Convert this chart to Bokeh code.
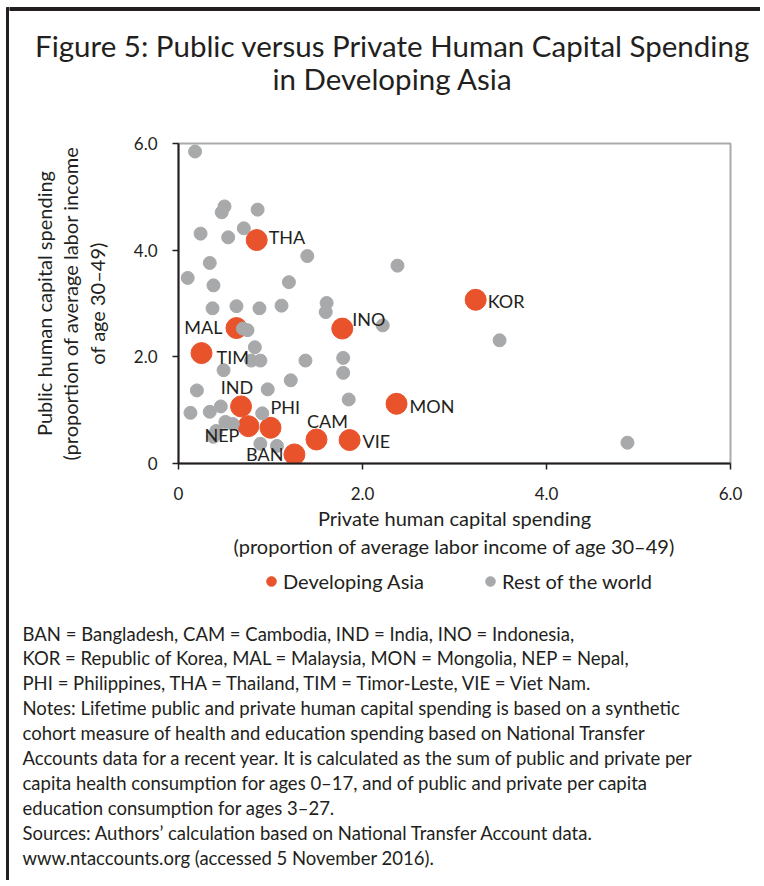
from bokeh.plotting import figure
from bokeh.models import Range1d, FixedTicker, Legend, LegendItem, ColumnDataSource
from bokeh.layouts import column, row
from bokeh.embed import file_html
from bokeh.resources import INLINE
from bokeh.core.properties import value

# ---------------- data ----------------
title_lines = ["Figure 5: Public versus Private Human Capital Spending",
               "in Developing Asia"]

asia_codes = ["THA", "INO", "MAL", "TIM", "IND", "PHI", "NEP", "CAM", "VIE", "BAN", "MON", "KOR"]
asia_private = [0.85, 1.78, 0.63, 0.25, 0.68, 1.00, 0.76, 1.50, 1.86, 1.26, 2.37, 3.23]
asia_public = [4.19, 2.53, 2.54, 2.07, 1.07, 0.67, 0.70, 0.45, 0.44, 0.17, 1.12, 3.07]

rest_private = [0.18, 0.50, 0.47, 0.86, 0.24, 0.54, 0.71, 1.40, 0.34, 2.38,
                0.10, 0.38, 1.20, 0.37, 0.63, 0.88, 1.12, 1.61, 1.60, 2.22,
                0.70, 0.75, 0.83, 0.79, 0.89, 1.38, 1.79, 1.79, 0.49, 1.22,
                0.20, 0.97, 1.85, 0.13, 0.34, 0.46, 0.91, 0.51, 0.59, 0.41,
                0.38, 0.89, 1.07, 3.49, 4.88]
rest_public = [5.85, 4.82, 4.71, 4.76, 4.31, 4.24, 4.41, 3.89, 3.76, 3.71,
               3.48, 3.34, 3.40, 2.91, 2.95, 2.91, 2.96, 3.01, 2.84, 2.59,
               2.53, 2.50, 2.18, 1.93, 1.93, 1.93, 1.98, 1.70, 1.75, 1.56,
               1.37, 1.39, 1.20, 0.95, 0.97, 1.07, 0.94, 0.78, 0.74, 0.61,
               0.50, 0.37, 0.33, 2.31, 0.39]

tick_values = [0, 2, 4, 6]
tick_labels = ["0", "2.0", "4.0", "6.0"]

series_names = ["Developing Asia", "Rest of the world"]
x_title = "Private human capital spending\n(proportion of average labor income of age 30\u201349)"
y_title = "Public human capital spending\n(proportion of average labor income\nof age 30\u201349)"

notes_lines = [
    "BAN = Bangladesh, CAM = Cambodia, IND = India, INO = Indonesia,",
    "KOR = Republic of Korea, MAL = Malaysia, MON = Mongolia, NEP = Nepal,",
    "PHI = Philippines, THA = Thailand, TIM = Timor-Leste, VIE = Viet Nam.",
    "Notes: Lifetime public and private human capital spending is based on a synthetic",
    "cohort measure of health and education spending based on National Transfer",
    "Accounts data for a recent year. It is calculated as the sum of public and private per",
    "capita health consumption for ages 0\u201317, and of public and private per capita",
    "education consumption for ages 3\u201327.",
    "Sources: Authors\u2019 calculation based on National Transfer Account data.",
    "www.ntaccounts.org (accessed 5 November 2016).",
]

# ---------------- styles ----------------
FONT = "Lato"
INK = "#231f20"
ORANGE = "#e9532b"
GRAY = "#a8a9ab"
FRAME = "#aaaaaa"

# label placement: (x offset px, y offset px, align)
label_style = {
    "THA": (12, -3, "left"), "INO": (10, -10, "left"), "MAL": (-14, -1, "right"),
    "TIM": (15, 4, "left"), "IND": (-4, -19, "center"), "PHI": (0, -21, "left"),
    "NEP": (-9, 9, "right"), "CAM": (11, -19, "center"), "VIE": (13, 1, "left"),
    "BAN": (-11, 0, "right"), "MON": (13, 2, "left"), "KOR": (12, 1, "left"),
}

# page geometry (pixels from the page's top-left corner)
H = 880
X0, W = 9, 751            # content column starts after the 9px border strip
TITLE_H = 120             # title panel: y 0..120
CHART_H = 447             # chart panel: y 120..567
NOTES_H = H - TITLE_H - CHART_H
FL, FR, FT, FB = 178, 730, 143, 463   # plotting frame edges on the page


def panel(w, h, x_from, y_from):
    """A figure whose frame covers its whole canvas, in page-pixel coordinates."""
    f = figure(width=w, height=h, title=None,
               x_range=Range1d(x_from, x_from + w), y_range=Range1d(y_from + h, y_from),
               output_backend="svg", toolbar_location=None,
               x_axis_location=None, y_axis_location=None, min_border=0,
               frame_align=False)
    f.outline_line_color = None
    f.grid.visible = False
    return f

# ---------------- border strip ----------------
strip = panel(X0, H, 0, 0)
strip.quad(left=[6], right=[9], top=[7], bottom=[H], color=INK)

# ---------------- title ----------------
tf = panel(W, TITLE_H, X0, 0)
tf.quad(left=[X0], right=[X0 + W], top=[7], bottom=[10], color=INK)
tf.text(x=[392, 392], y=[45, 78], text=title_lines, text_align="center",
        text_baseline="middle", text_font=value(FONT), text_font_size="29.5px",
        text_color=INK)

# ---------------- chart ----------------
p = figure(width=W, height=CHART_H, title=None, x_range=Range1d(0, 6), y_range=Range1d(0, 6),
           output_backend="svg", toolbar_location=None, frame_align=False,
           min_border_left=FL - X0, min_border_right=X0 + W - FR,
           min_border_top=FT - TITLE_H, min_border_bottom=TITLE_H + CHART_H - FB)
p.grid.visible = False
p.outline_line_color = FRAME
p.outline_line_width = 2

for ax in (p.xaxis[0], p.yaxis[0]):
    ax.ticker = FixedTicker(ticks=tick_values)
    ax.major_label_overrides = dict(zip(tick_values, tick_labels))
    ax.axis_line_color = INK
    ax.axis_line_width = 2
    ax.major_tick_line_color = INK
    ax.major_tick_line_width = 1.5
    ax.major_tick_out = 6
    ax.major_tick_in = 0
    ax.minor_tick_line_color = None
    ax.major_label_text_font = FONT
    ax.major_label_text_font_size = "17px"
    ax.major_label_text_color = INK
    ax.axis_label_text_font = FONT
    ax.axis_label_text_font_size = "20px"
    ax.axis_label_text_font_style = "normal"
    ax.axis_label_text_color = INK

p.xaxis[0].axis_label = x_title
p.yaxis[0].axis_label = y_title
p.xaxis[0].major_label_standoff = 17
p.yaxis[0].major_label_standoff = 15
p.xaxis[0].axis_label_standoff = 3
p.yaxis[0].axis_label_standoff = 22
p.yaxis[0].axis_label_text_line_height = 1.1

p.scatter(asia_private, asia_public, size=21, color=ORANGE)
p.scatter(rest_private, rest_public, size=13, color=GRAY)

for align in ("left", "right", "center"):
    idx = [i for i, c in enumerate(asia_codes) if label_style[c][2] == align]
    src = ColumnDataSource(dict(
        x=[asia_private[i] for i in idx], y=[asia_public[i] for i in idx],
        t=[asia_codes[i] for i in idx],
        xo=[label_style[asia_codes[i]][0] for i in idx],
        yo=[label_style[asia_codes[i]][1] for i in idx]))
    p.text(x="x", y="y", text="t", x_offset="xo", y_offset="yo", source=src,
           text_align=align, text_baseline="middle", text_font=value(FONT),
           text_font_size="18px", text_color=INK)

# ---------------- legend + notes ----------------
ny0 = TITLE_H + CHART_H
nf = panel(W, NOTES_H, X0, ny0)
# legend keys: same series, drawn in this panel's pixel space (they fall outside its view)
k_asia = nf.scatter(x=asia_private, y=asia_public, size=21, color=ORANGE)
k_rest = nf.scatter(x=rest_private, y=rest_public, size=13, color=GRAY)
legend = Legend(items=[LegendItem(label=series_names[0], renderers=[k_asia]),
                       LegendItem(label=series_names[1], renderers=[k_rest])],
                orientation="horizontal", location=(259 - X0, H - 593),
                glyph_width=24, glyph_height=24, label_standoff=0, spacing=54,
                label_text_font=FONT, label_text_font_size="20px",
                label_text_color=INK, border_line_color=None,
                background_fill_alpha=0, padding=0, margin=0)
nf.add_layout(legend, "center")

for i, line in enumerate(notes_lines):
    nf.text(x=[22], y=[633 + 24.9 * i], text=[line], text_align="left",
            text_baseline="middle", text_font=value(FONT),
            text_font_size="18.5px", text_color=INK)

layout = row(strip, column(tf, p, nf))
open("out.html", "w").write(file_html(layout, INLINE))
